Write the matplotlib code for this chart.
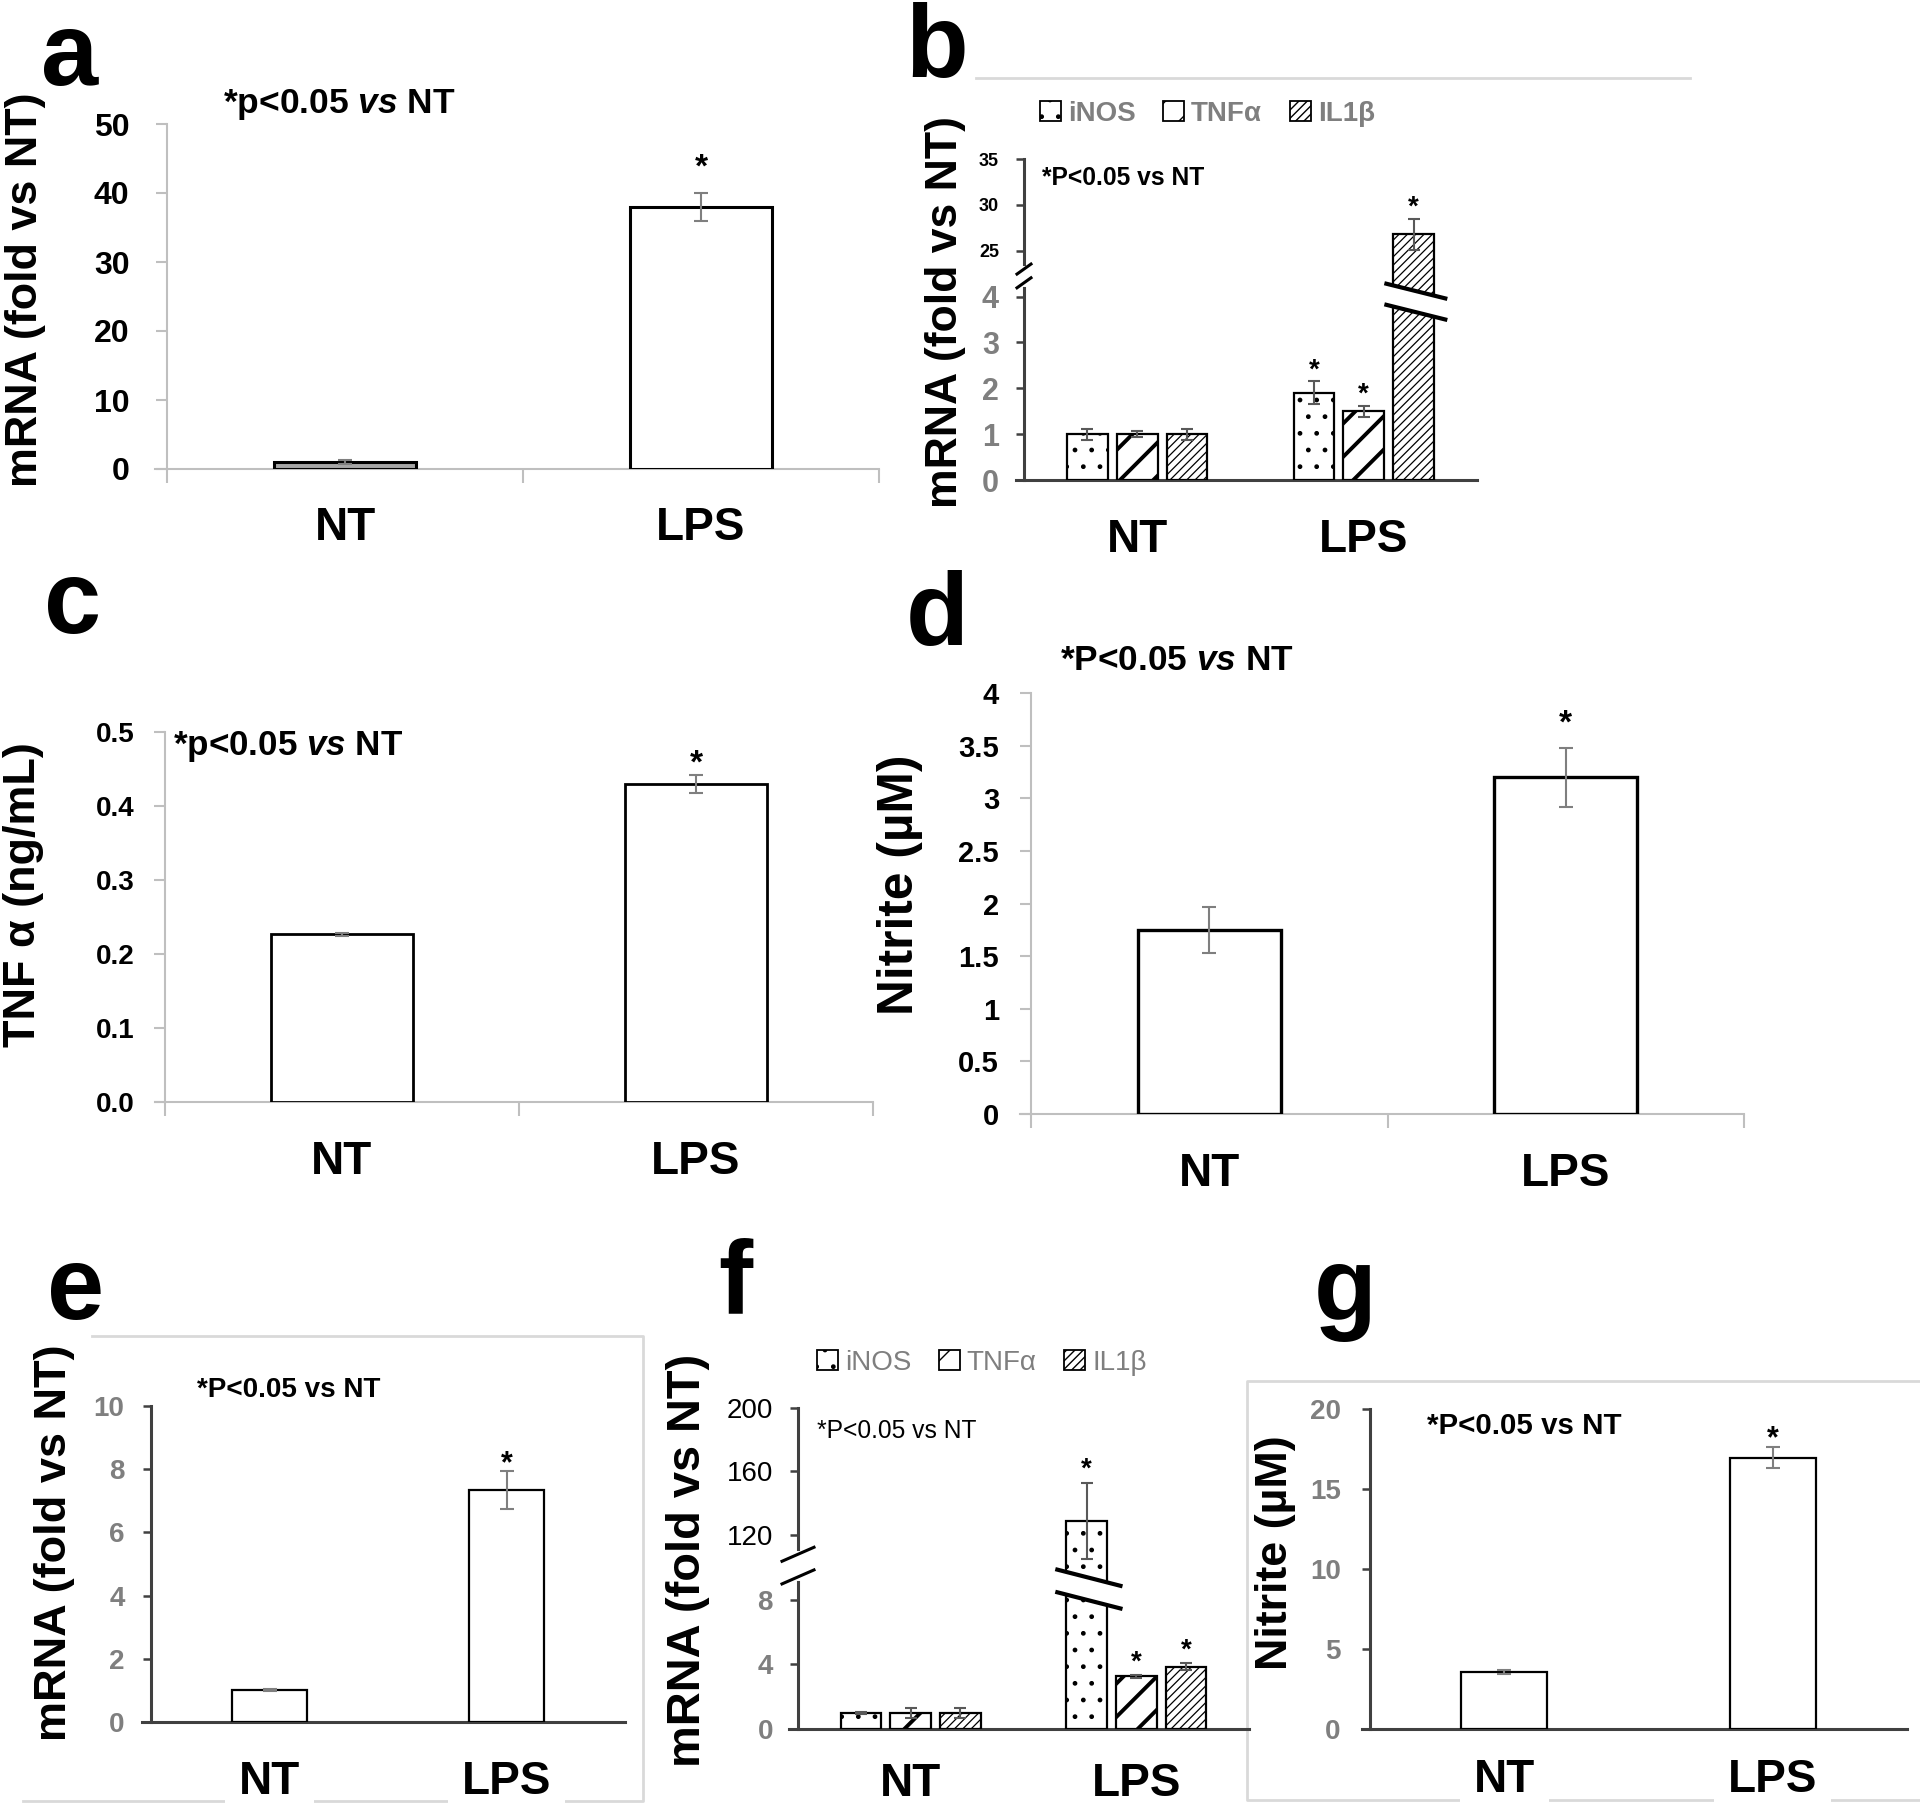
import numpy as np
import matplotlib
matplotlib.use('Agg')
import matplotlib.pyplot as plt
from matplotlib import font_manager
from matplotlib.lines import Line2D
from matplotlib.patches import Patch, Polygon
from matplotlib.transforms import blended_transform_factory

# ---------------------------------------------------------------------------
# values
# ---------------------------------------------------------------------------
groups = ['NT', 'LPS']
genes = ['iNOS', 'TNFα', 'IL1β']
sig = [False, True]          # * only on LPS

a_mean = [1.0, 38.0]
a_sem = [0.3, 2.0]

b_inos = [1.0, 1.9]
b_inos_sem = [0.12, 0.25]
b_tnf = [1.0, 1.5]
b_tnf_sem = [0.06, 0.12]
b_il1b = [1.0, 26.8]
b_il1b_sem = [0.12, 1.7]

c_mean = [0.227, 0.430]
c_sem = [0.002, 0.012]

d_mean = [1.75, 3.20]
d_sem = [0.22, 0.28]

e_mean = [1.0, 7.35]
e_sem = [0.03, 0.60]

f_inos = [1.0, 129.0]
f_inos_sem = [0.08, 24.0]
f_tnf = [1.0, 3.25]
f_tnf_sem = [0.30, 0.10]
f_il1b = [1.0, 3.85]
f_il1b_sem = [0.30, 0.20]

g_mean = [3.55, 16.95]
g_sem = [0.12, 0.65]

# ---------------------------------------------------------------------------
# fonts / colours
# ---------------------------------------------------------------------------
names = {f.name for f in font_manager.fontManager.ttflist}
FONT = 'Liberation Sans Narrow' if 'Liberation Sans Narrow' in names else 'Liberation Sans'
plt.rcParams['font.family'] = [FONT, 'DejaVu Sans']
plt.rcParams['mathtext.fontset'] = 'custom'
plt.rcParams['mathtext.it'] = FONT + ':italic:bold'
plt.rcParams['mathtext.rm'] = FONT + ':bold'

LIGHT = '#bfbfbf'
DARK = '#404040'
GREY_TXT = '#7f7f7f'
ERR = '#7f7f7f'

W, H = 1920, 1807
fig = plt.figure(figsize=(W / 100, H / 100), dpi=100)
RENDERER = fig.canvas.get_renderer()
x = np.arange(len(groups))


def add_ax(xaxis, y0, x1, y1, over=10):
    # xaxis = pixel column of the y axis; the x axis sticks out `over` px to its left
    x0 = xaxis - over
    ax = fig.add_axes([x0 / W, 1 - y1 / H, (x1 - x0) / W, (y1 - y0) / H])
    ax.set_facecolor('none')
    ax.set_xlim(-0.5 - over * 2.0 / (x1 - xaxis), 1.5)
    ax.spines['left'].set_position(('data', -0.5))
    ax.px_per_x = (x1 - xaxis) / 2.0
    return ax


def fig_line(xs, ys, color='#d9d9d9', lw=2):
    fig.add_artist(Line2D([v / W for v in xs], [1 - v / H for v in ys],
                          color=color, lw=lw, zorder=0))


def fit(t, target, along='w'):
    bb = t.get_window_extent(RENDERER)
    cur = bb.width if along == 'w' else bb.height
    t.set_fontsize(t.get_fontsize() * target / cur)
    return t


def style_light(ax, ticksize, ypad, pad=27):
    for s in ['top', 'right']:
        ax.spines[s].set_visible(False)
    for s in ['left', 'bottom']:
        ax.spines[s].set_color(LIGHT)
        ax.spines[s].set_linewidth(1.5)
    ax.tick_params(axis='y', direction='out', length=8, width=1.5, color=LIGHT,
                   labelsize=ticksize, pad=ypad)
    ax.set_xticks([-0.5, 0.5, 1.5], minor=True)
    ax.tick_params(axis='x', which='minor', direction='out', length=10,
                   width=1.5, color=LIGHT)
    ax.tick_params(axis='x', which='major', length=0, pad=pad)
    ax.set_xticks(x)
    ax.set_xticklabels(groups, fontsize=33, fontweight='bold')
    for lab in ax.get_yticklabels():
        lab.set_fontweight('bold')


def style_dark(ax, ticksize, ypad, pad=27):
    for s in ['top', 'right']:
        ax.spines[s].set_visible(False)
    for s in ['left', 'bottom']:
        ax.spines[s].set_color(DARK)
        ax.spines[s].set_linewidth(2.2)
    ax.tick_params(axis='y', direction='out', length=6, width=1.8, color=DARK,
                   labelsize=ticksize, labelcolor=GREY_TXT, pad=ypad)
    ax.tick_params(axis='x', length=0, pad=pad)
    ax.set_xticks(x)
    ax.set_xticklabels(groups, fontsize=33, fontweight='bold')
    for lab in ax.get_yticklabels():
        lab.set_fontweight('bold')


def stars(ax, xs, tops, size, off):
    for xi, t, s in zip(xs, tops, sig):
        if s:
            ax.annotate('*', (xi, t), xytext=(0, off), textcoords='offset points',
                        ha='center', va='center', fontsize=size, fontweight='bold')


def simple_bars(ax, mean, sem, width, lw, colors=('white', 'white')):
    ax.bar(x, mean, width, yerr=sem, color=list(colors), edgecolor='black',
           linewidth=lw, zorder=3,
           error_kw=dict(ecolor=ERR, elinewidth=1.5, capsize=5, capthick=1.5, zorder=4))
    return [m + e for m, e in zip(mean, sem)]


HATCH = {'iNOS': ('.', 1.0), 'TNFα': ('/', 2.8), 'IL1β': ('////', 0.9)}


def grouped_bars(ax, series, sems, width=0.18, step=0.22):
    tops = []
    for k, (name, vals, errs) in enumerate(zip(genes, series, sems)):
        hatch, hlw = HATCH[name]
        xs = x + (k - 1) * step
        with plt.rc_context({'hatch.linewidth': hlw}):
            bars = ax.bar(xs, vals, width, yerr=errs, color='white', edgecolor='black',
                          linewidth=1.6, hatch=hatch, zorder=3,
                          error_kw=dict(ecolor='#595959', elinewidth=1.5, capsize=4,
                                        capthick=1.5, zorder=4))
        for p in bars:
            if hasattr(p, 'set_hatch_linewidth'):
                p.set_hatch_linewidth(hlw)
        tops.append((xs, [v + e for v, e in zip(vals, errs)]))
    return tops


def bar_break(ax, xl, xr, d_up, d_lo, drop, d_top):
    # two slanted strokes with a white gap across a bar (y in display units)
    tr = blended_transform_factory(ax.transData, ax.transAxes)
    up = [(xl, (d_up + drop / 2) / d_top), (xr, (d_up - drop / 2) / d_top)]
    lo = [(xl, (d_lo + drop / 2) / d_top), (xr, (d_lo - drop / 2) / d_top)]
    ax.add_patch(Polygon(up + lo[::-1], closed=True, fc='white', ec='none',
                         transform=tr, zorder=6, clip_on=False))
    for seg in (up, lo):
        xs, ys = zip(*seg)
        ax.add_line(Line2D(xs, ys, transform=tr, color='black', lw=3.0, zorder=7,
                           clip_on=False))


def axis_break(ax, d_lo, d_hi, d_top, half_px, rise_px, box_h):
    tr = blended_transform_factory(ax.transData, ax.transAxes)
    dx = half_px / ax.px_per_x
    dy = rise_px / box_h
    y0, y1 = d_lo / d_top, d_hi / d_top
    ax.add_line(Line2D([-0.5, -0.5], [y0, y1], transform=tr, color='white', lw=5,
                       zorder=8, clip_on=False))
    for yy in (y0, y1):
        ax.add_line(Line2D([-0.5 - dx, -0.5 + dx], [yy - dy / 2, yy + dy / 2],
                           transform=tr, color='black', lw=2.2, zorder=9,
                           clip_on=False))


def ptext(xp, yp, s, width, weight='bold'):
    t = fig.text(xp / W, 1 - yp / H, s, ha='left', va='center', fontsize=24,
                 fontweight=weight)
    fit(t, width)


def ylab(xp, yp, s, length):
    t = fig.text(xp / W, 1 - yp / H, s, ha='center', va='center', rotation=90,
                 fontsize=34, fontweight='bold')
    fit(t, length, along='h')


def letter(xp, yp, s):
    fig.text(xp / W, 1 - yp / H, s, ha='center', va='center', fontsize=74,
             fontweight='bold')


def legend(xp, yp, weight):
    handles = []
    for gname in genes:
        p = Patch(facecolor='white', edgecolor='black', hatch=HATCH[gname][0], lw=1.3)
        if hasattr(p, 'set_hatch_linewidth'):
            p.set_hatch_linewidth(min(HATCH[gname][1], 1.6))
        handles.append(p)
    fig.legend(handles, genes, loc='center left', bbox_to_anchor=(xp / W, 1 - yp / H),
               ncol=3, frameon=False, handlelength=0.75, handleheight=0.75,
               handletextpad=0.25, columnspacing=1.0, borderpad=0, borderaxespad=0,
               prop=dict(size=20, weight=weight), labelcolor=GREY_TXT)


# ---------------------------------------------------------------------------
# a
# ---------------------------------------------------------------------------
ax = add_ax(167, 124, 879, 469, over=12)
tops = simple_bars(ax, a_mean, a_sem, 0.40, 2.2, colors=('#a6a6a6', 'white'))
ax.set_ylim(0, 50)
ax.set_yticks(np.arange(0, 51, 10))
style_light(ax, 23, ypad=19)
stars(ax, x, tops, 24, 18)
letter(70, 58, 'a')
ptext(223, 105, r'*p<0.05 $vs$ NT', 233)
ylab(26, 290, 'mRNA (fold vs NT)', 395)

# ---------------------------------------------------------------------------
# b  (broken y axis: 0-4 then 25-35)
# ---------------------------------------------------------------------------
ax = add_ax(1024, 159, 1477, 480, over=8)
b_kd = [-10, 4.35, 24.0, 100.0]
b_kv = [-10, 4.35, 4.8, 4.8 + 76 * 0.2]
ax.set_yscale('function', functions=(lambda y: np.interp(y, b_kd, b_kv),
                                     lambda d: np.interp(d, b_kv, b_kd)))
tops = grouped_bars(ax, [b_inos, b_tnf, b_il1b], [b_inos_sem, b_tnf_sem, b_il1b_sem])
ax.set_ylim(0, 35)
b_ticks = [0, 1, 2, 3, 4, 25, 30, 35]
ax.set_yticks(b_ticks)
ax.set_yticklabels([str(t) for t in b_ticks])
style_dark(ax, 22, ypad=12)
for lab, t in zip(ax.get_yticklabels(), b_ticks):
    if t > 10:
        lab.set_fontsize(13)
        lab.set_color('black')
for xs, tt in tops:
    stars(ax, xs, tt, 20, 8)
b_top = np.interp(35, b_kd, b_kv)
bar_break(ax, 1 + 0.22 - 0.12, 1 + 0.22 + 0.14, 4.12, 3.66, 0.32, b_top)
axis_break(ax, 4.3, 4.6, b_top, 7, 10, 480 - 159)
fig_line([976, 1690], [78, 78])
legend(1040, 114, 'bold')
letter(937, 50, 'b')
ptext(1042, 178, '*P<0.05 vs NT', 163)
ylab(946, 312, 'mRNA (fold vs NT)', 392)

# ---------------------------------------------------------------------------
# c
# ---------------------------------------------------------------------------
ax = add_ax(165, 732, 873, 1102, over=10)
tops = simple_bars(ax, c_mean, c_sem, 0.40, 2.0)
ax.set_ylim(0, 0.5)
ax.set_yticks(np.arange(0, 0.51, 0.1))
ax.set_yticklabels(['%.1f' % t for t in np.arange(0, 0.51, 0.1)])
style_light(ax, 20, ypad=14)
stars(ax, x, tops, 24, 8)
letter(73, 606, 'c')
ptext(173, 746, r'*p<0.05 $vs$ NT', 231)
ylab(24, 895, 'TNF α (ng/mL)', 305)

# ---------------------------------------------------------------------------
# d
# ---------------------------------------------------------------------------
ax = add_ax(1031, 693, 1744, 1114, over=11)
tops = simple_bars(ax, d_mean, d_sem, 0.40, 2.4)
ax.set_ylim(0, 4)
d_ticks = np.arange(0, 4.01, 0.5)
ax.set_yticks(d_ticks)
ax.set_yticklabels(['%g' % t for t in d_ticks])
style_light(ax, 21, ypad=15)
stars(ax, x, tops, 24, 17)
letter(937, 618, 'd')
ptext(1060, 660, r'*P<0.05 $vs$ NT', 234)
ylab(900, 885, 'Nitrite (µM)', 260)

# ---------------------------------------------------------------------------
# e
# ---------------------------------------------------------------------------
ax = add_ax(151, 1406, 625, 1722, over=9)
tops = simple_bars(ax, e_mean, e_sem, 0.32, 1.6)
ax.set_ylim(0, 10)
ax.set_yticks(np.arange(0, 11, 2))
style_dark(ax, 20, ypad=13)
stars(ax, x, tops, 22, 5)
fig_line([92, 643, 643, 23], [1336, 1336, 1801, 1801])
for lab in ax.get_xticklabels():
    lab.set_bbox(dict(fc='white', ec='none', pad=10))
letter(76, 1292, 'e')
ptext(197, 1390, '*P<0.05 vs NT', 184)
ylab(55, 1543, 'mRNA (fold vs NT)', 397)

# ---------------------------------------------------------------------------
# f  (broken y axis: 0-8 then 120-200)
# ---------------------------------------------------------------------------
ax = add_ax(798, 1408, 1249, 1729, over=9)
f_kd = [-10, 9.0, 100.0, 500.0]
f_kv = [-10, 9.0, 10.04, 10.04 + 400 * 0.098]
ax.set_yscale('function', functions=(lambda y: np.interp(y, f_kd, f_kv),
                                     lambda d: np.interp(d, f_kv, f_kd)))
tops = grouped_bars(ax, [f_inos, f_tnf, f_il1b], [f_inos_sem, f_tnf_sem, f_il1b_sem])
ax.set_ylim(0, 200)
f_ticks = [0, 4, 8, 120, 160, 200]
ax.set_yticks(f_ticks)
ax.set_yticklabels([str(t) for t in f_ticks])
style_dark(ax, 20, ypad=12, pad=24)
for lab, t in zip(ax.get_yticklabels(), f_ticks):
    if t > 10:
        lab.set_color('black')
        lab.set_fontweight('normal')
for xs, tt in tops:
    stars(ax, xs, tt, 20, 9)
f_top = np.interp(200, f_kd, f_kv)
bar_break(ax, 1 - 0.22 - 0.13, 1 - 0.22 + 0.15, 9.35, 7.95, 1.0, f_top)
axis_break(ax, 9.4, 10.8, f_top, 16, 14, 1729 - 1408)
legend(817, 1363, 'normal')
letter(735, 1286, 'f')
ptext(817, 1431, '*P<0.05 vs NT', 160, weight='normal')
ylab(688, 1560, 'mRNA (fold vs NT)', 414)

# ---------------------------------------------------------------------------
# g
# ---------------------------------------------------------------------------
ax = add_ax(1370, 1409, 1907, 1729, over=8)
tops = simple_bars(ax, g_mean, g_sem, 0.32, 1.6)
ax.set_ylim(0, 20)
ax.set_yticks(np.arange(0, 21, 5))
style_dark(ax, 20, ypad=15, pad=21)
stars(ax, x, tops, 22, 6)
fig_line([1920, 1247, 1247, 1920], [1381, 1381, 1800, 1800])
for lab in ax.get_xticklabels():
    lab.set_bbox(dict(fc='white', ec='none', pad=10))
letter(1345, 1294, 'g')
ptext(1427, 1426, '*P<0.05 vs NT', 195)
ylab(1276, 1553, 'Nitrite (µM)', 235)

fig.savefig('out.png', dpi=100, facecolor='white')
